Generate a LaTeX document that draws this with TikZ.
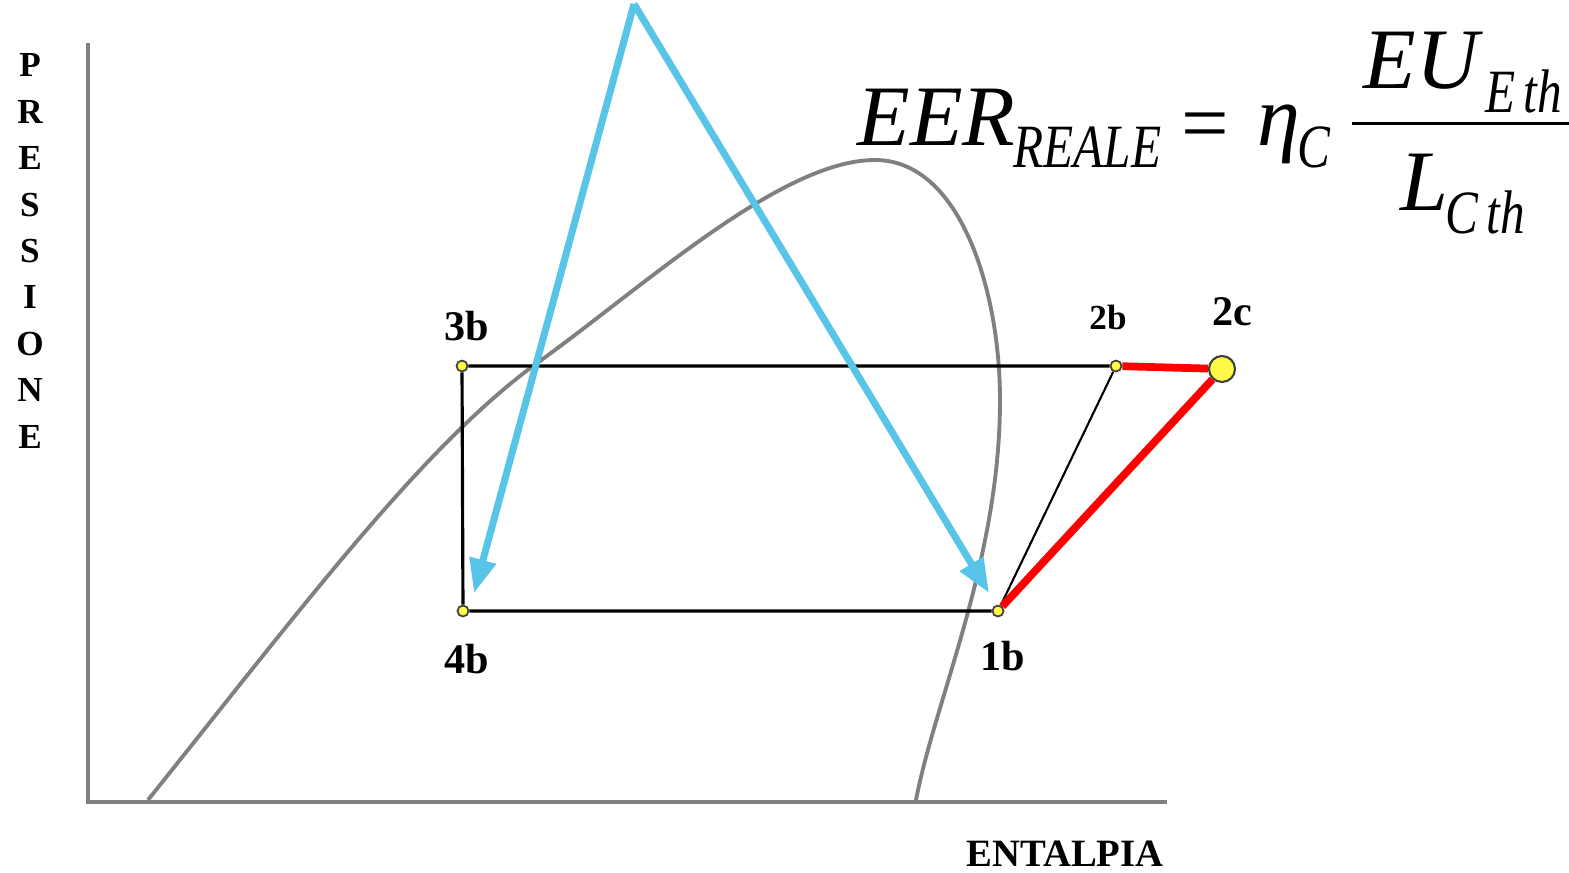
\documentclass[tikz,border=0pt]{standalone}
\usepackage{fontspec}
\setmainfont{Liberation Serif}
\usepackage{graphicx}
\usetikzlibrary{arrows.meta, calc}
\definecolor{skyarrow}{RGB}{88,196,232}
\definecolor{domegray}{RGB}{128,128,128}
\definecolor{ptyellow}{RGB}{255,250,70}
\newcommand{\tallsub}[1]{\scalebox{1}[1.25]{#1}}

\begin{document}
\begin{tikzpicture}[x=0.01cm, y=-0.01cm,
  pnt/.style={draw=black!75, fill=ptyellow, circle, inner sep=0pt, minimum size=0.11cm, line width=0.5pt},
  lbl/.style={font=\fontsize{12}{14}\selectfont\bfseries},
  cyc/.style={black, line width=0.9pt},
  real/.style={red, line width=2.2pt},
  bluearrow/.style={skyarrow, line width=2pt, -{Triangle[length=0.34cm, width=0.26cm]}},
  fbig/.style={font=\fontsize{24.5}{29}\selectfont\itshape, inner sep=0pt, anchor=base west},
  fsub/.style={font=\fontsize{14}{16}\selectfont\itshape, inner sep=0pt, anchor=base west}]
  \useasboundingbox (0,0) rectangle (1569,872);

  % axes
  \draw[domegray, line width=1.1pt] (88,43) -- (88,802) -- (1167,802);
  \node[font=\fontsize{10}{13.2}\selectfont\bfseries, align=center] (pres) at (30,251)
    {P\\R\\E\\S\\S\\I\\O\\N\\E};
  \node[font=\fontsize{11}{13}\selectfont\bfseries] (ent) at (1065,854) {ENTALPIA};

  % saturation dome
  \draw[domegray, line width=1.1pt] (148,800)
    .. controls (300,610) and (420,450) .. (533,366)
    .. controls (640,290) and (780,160) .. (875,160)
    .. controls (960,160) and (1000,290) .. (1000,400)
    .. controls (1000,560) and (935,700) .. (916,800);

  % cycle points
  \node[pnt] (p3b) at (462,366) {};
  \node[pnt] (p2b) at (1116,366) {};
  \node[pnt] (p4b) at (463,611) {};
  \node[pnt] (p1b) at (998,611) {};
  \node[draw=black!75, fill=ptyellow, circle, inner sep=0pt, minimum size=0.26cm, line width=0.6pt] (p2c) at (1222,369) {};

  \node[lbl] (l3b) at (467,326) {3b};
  \node[font=\fontsize{10}{12}\selectfont\bfseries] (l2b) at (1108,317) {2b};
  \node[lbl] (l2c) at (1232,312) {2c};
  \node[lbl] (l4b) at (467,659) {4b};
  \node[lbl] (l1b) at (1003,656) {1b};

  \draw[cyc] (p2b) -- (p3b) -- (p4b) -- (p1b);
  \draw[black, line width=0.6pt] (p1b) -- (p2b);
  \draw[real] (p2b) -- (p2c) -- (p1b);

  % arrows
  \coordinate (apex) at (634,4);
  \coordinate (tipl) at (474,593);
  \coordinate (tipr) at (989,593);
  \draw[bluearrow] (apex) -- (tipl);
  \draw[bluearrow] (apex) -- (tipr);

  % formula
  \node[fbig] (eer) at (857,145) {EER};
  \node[fsub] (reale) at (1013,167) {\tallsub{REALE}};
  \node[font=\fontsize{24}{29}\selectfont, inner sep=0pt] (eq) at (1205,132) {=};
  \node[fbig] (eta) at (1257,145) {η};
  \node[fsub] (etac) at (1297,167) {\tallsub{C}};
  \node[fbig] (eu) at (1363,88) {EU};
  \node[fsub] (eth) at (1485,112) {\tallsub{E\,th}};
  \draw[black, line width=0.85pt] (1352,123) -- (1575,123);
  \node[fbig] (lc) at (1400,210) {L};
  \node[fsub] (cth) at (1445,233) {\tallsub{C\,th}};
\end{tikzpicture}
\end{document}
